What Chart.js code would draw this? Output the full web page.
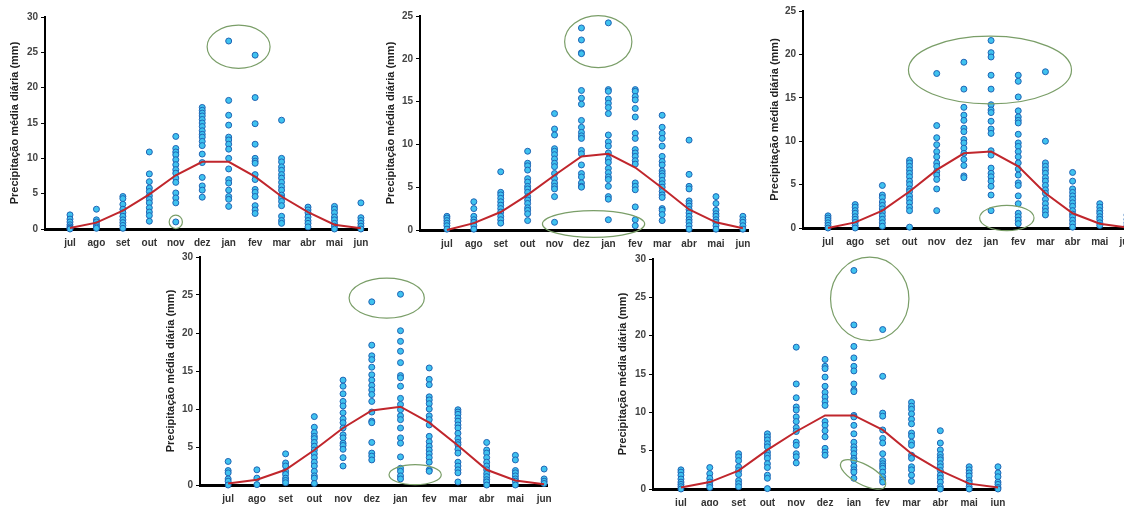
<!DOCTYPE html>
<html>
<head>
<meta charset="utf-8">
<script src="https://cdn.jsdelivr.net/npm/chart.js@4.4.1/dist/chart.umd.min.js"></script>
<style>
  html, body { margin: 0; padding: 0; width: 1124px; height: 506px; overflow: hidden; background: #fff; }
  body { position: relative; }
  canvas { position: absolute; }
</style>
</head>
<body>
<canvas id="g1"></canvas>
<canvas id="g2"></canvas>
<canvas id="g3"></canvas>
<canvas id="g4"></canvas>
<canvas id="g5"></canvas>
<script>
// meses (jul -> jun)
const months = ['jul', 'ago', 'set', 'out', 'nov', 'dez', 'jan', 'fev', 'mar', 'abr', 'mai', 'jun'];
const yTitle = 'Precipitação média diária (mm)';

// grafico 1
const p1Values = [
  [2.0, 1.4, 1.0, 0.6, 0.3, 0.1, 0],
  [2.8, 1.3, 1.0, 0.6, 0.3, 0.1],
  [4.6, 4.3, 3.5, 2.8, 2.3, 1.8, 1.3, 0.9, 0.5, 0.1],
  [10.9, 7.8, 6.7, 5.8, 5.3, 4.7, 4.2, 3.7, 3.0, 2.4, 1.9, 1.1],
  [13.1, 11.4, 10.9, 10.5, 9.8, 9.1, 8.4, 7.9, 7.2, 6.6, 5.1, 4.4, 3.7, 1.0],
  [17.2, 16.8, 16.4, 16.0, 15.5, 15.0, 14.5, 13.9, 13.4, 13.0, 12.4, 11.8, 10.6, 9.4, 7.3, 6.1, 5.5, 4.5],
  [26.6, 18.2, 16.1, 14.7, 13.0, 12.6, 12.0, 11.3, 10.0, 8.5, 7.0, 6.5, 5.5, 4.6, 4.2, 3.2],
  [24.6, 18.6, 14.9, 12.0, 10.0, 9.6, 9.3, 7.7, 7.0, 5.6, 5.2, 4.6, 3.3, 2.7, 2.2],
  [15.4, 10.0, 9.5, 8.8, 8.3, 7.7, 7.2, 6.6, 6.0, 5.5, 4.8, 4.4, 3.9, 3.3, 1.8, 1.2, 0.8],
  [3.1, 2.7, 2.3, 1.7, 1.2, 0.8, 0.3],
  [3.2, 2.8, 2.3, 1.7, 1.3, 0.8, 0.4, 0],
  [3.7, 1.6, 1.2, 0.8, 0.4, 0]
];
const p1Mean = [0.15, 0.9, 2.6, 4.9, 7.6, 9.5, 9.5, 7.4, 4.6, 2.4, 0.6, 0.1];

// grafico 2
const p2Values = [
  [1.6, 1.4, 1.1, 0.8, 0.5, 0.1],
  [3.3, 2.5, 1.6, 1.2, 0.9, 0.5, 0.1],
  [6.8, 4.4, 4.1, 3.7, 3.3, 2.9, 2.5, 2.1, 1.6, 1.2, 0.8],
  [9.2, 7.8, 7.5, 7.0, 6.0, 5.6, 5.1, 4.8, 4.4, 3.9, 3.5, 3.1, 2.6, 2.3, 1.9, 1.1],
  [13.6, 11.8, 11.1, 9.5, 9.2, 8.8, 8.3, 7.8, 7.4, 6.6, 6.0, 5.5, 5.1, 4.8, 3.9, 0.9],
  [23.6, 22.2, 20.7, 20.6, 16.3, 15.4, 14.7, 12.8, 12.0, 11.4, 11.0, 10.7, 9.3, 8.9, 7.6, 6.6, 6.2, 5.5, 5.1, 5.0],
  [24.2, 16.4, 16.2, 15.3, 14.8, 14.3, 13.6, 11.1, 10.3, 9.8, 9.0, 8.3, 7.9, 7.2, 6.7, 6.2, 5.9, 5.1, 3.9, 3.6, 1.2],
  [16.4, 16.2, 15.6, 15.2, 14.2, 13.2, 11.3, 10.7, 9.4, 9.0, 8.6, 8.1, 7.7, 5.5, 5.1, 4.7, 2.7, 1.2, 0.5],
  [13.4, 12.0, 11.3, 10.7, 9.8, 8.6, 8.0, 7.6, 6.9, 6.6, 6.3, 5.8, 5.4, 5.0, 4.5, 4.1, 3.8, 2.5, 2.3, 1.8, 1.1],
  [10.5, 6.5, 5.1, 4.8, 3.4, 3.1, 2.8, 2.4, 2.0, 1.6, 1.2, 0.9, 0.5, 0.1],
  [3.9, 3.1, 2.3, 1.9, 1.6, 1.2, 0.9, 0.5, 0.1],
  [1.6, 1.2, 0.9, 0.5, 0.1]
];
const p2Mean = [0.0, 0.8, 2.1, 4.1, 6.4, 8.6, 8.9, 7.3, 4.9, 2.4, 0.9, 0.2];

// grafico 3
const p3Values = [
  [1.4, 1.15, 0.9, 0.6, 0.3, 0],
  [2.7, 2.4, 2.0, 1.7, 1.3, 1.0, 0.65, 0.3, 0],
  [4.9, 3.8, 3.5, 3.0, 2.6, 2.2, 1.8, 1.4, 1.0, 0.6, 0.2],
  [7.8, 7.5, 7.1, 6.7, 6.3, 5.9, 5.4, 5.0, 4.5, 4.2, 3.7, 3.3, 2.9, 2.4, 2.0, 0.1],
  [17.8, 11.8, 10.4, 9.6, 8.8, 8.2, 7.5, 7.1, 6.5, 6.1, 5.6, 4.5, 2.0],
  [19.1, 16.0, 13.9, 13.0, 12.4, 11.5, 11.1, 10.2, 9.8, 9.2, 8.6, 7.9, 7.2, 6.0, 5.8],
  [21.6, 20.2, 19.7, 17.6, 16.0, 14.2, 13.6, 13.3, 12.3, 11.4, 10.9, 8.9, 8.4, 6.9, 6.3, 5.9, 5.4, 4.8, 3.8, 2.0],
  [17.6, 16.9, 15.1, 13.5, 12.8, 12.4, 12.1, 10.8, 9.8, 9.4, 8.8, 8.2, 7.5, 6.8, 6.1, 5.2, 4.9, 3.7, 2.8, 1.7, 1.3, 0.9, 0.5],
  [18.0, 10.0, 7.5, 7.1, 6.7, 6.3, 5.8, 5.4, 4.9, 4.4, 4.0, 3.3, 2.8, 2.3, 1.9, 1.5],
  [6.4, 5.4, 4.5, 4.1, 3.7, 3.3, 2.9, 2.5, 2.0, 1.6, 1.3, 0.9, 0.5, 0.1],
  [2.8, 2.4, 2.0, 1.7, 1.3, 1.0, 0.6, 0.3],
  [1.5, 1.0, 0.6, 0.3, 0.1]
];
const p3Mean = [0.0, 0.65, 2.0, 4.2, 6.7, 8.6, 8.8, 7.1, 4.0, 1.7, 0.5, 0.05];

// grafico 4
const p4Values = [
  [3.1, 1.9, 1.6, 0.8, 0.5, 0],
  [2.0, 0.9, 0.05],
  [4.1, 2.9, 2.5, 1.8, 1.4, 0.9, 0.6, 0.3],
  [9.0, 7.6, 6.9, 6.4, 6.1, 5.6, 5.1, 4.6, 4.1, 3.6, 3.0, 2.5, 1.8, 1.2, 0.9, 0.2],
  [13.8, 13.0, 12.0, 11.0, 10.4, 9.5, 8.7, 8.2, 7.5, 6.6, 6.2, 5.5, 5.2, 4.7, 3.6, 2.5],
  [24.1, 18.4, 17.0, 16.5, 15.5, 14.5, 13.8, 13.1, 12.5, 11.9, 11.0, 9.6, 8.4, 8.2, 5.6, 4.2, 3.8, 3.3],
  [25.1, 20.3, 18.9, 17.6, 16.1, 14.4, 14.1, 13.0, 11.4, 10.6, 9.9, 9.1, 8.6, 7.5, 6.2, 5.5, 3.7, 2.2, 1.8, 1.2, 0.8],
  [15.4, 13.9, 13.2, 11.6, 11.2, 10.7, 10.0, 9.1, 8.6, 7.9, 6.4, 5.7, 5.1, 4.6, 4.1, 3.6, 3.0, 2.0, 1.8],
  [9.9, 9.6, 9.3, 8.8, 8.4, 7.9, 7.5, 6.8, 6.1, 5.6, 5.3, 4.7, 4.2, 3.0, 2.5, 2.0, 1.6, 0.4],
  [5.6, 4.6, 4.2, 3.6, 3.0, 2.5, 2.0, 1.5, 1.1, 0.7, 0.4, 0],
  [3.9, 3.3, 1.9, 1.6, 1.2, 0.8, 0.5, 0],
  [2.1, 0.8, 0.5, 0.2]
];
const p4Mean = [0.2, 0.7, 2.0, 4.6, 7.5, 9.8, 10.3, 8.2, 5.2, 2.0, 0.6, 0.1];

// grafico 5
const p5Values = [
  [2.5, 2.2, 1.8, 1.3, 0.9, 0.6, 0.3, 0],
  [2.8, 2.0, 1.4, 0.9, 0.5, 0.2],
  [4.6, 4.2, 3.7, 2.9, 2.4, 1.9, 1.1, 0.7, 0.3],
  [7.2, 6.8, 6.4, 5.9, 5.5, 4.8, 4.4, 4.0, 3.3, 2.8, 1.8, 1.4, 0.05],
  [18.5, 13.7, 11.9, 10.7, 10.3, 9.4, 8.8, 8.0, 7.5, 6.1, 5.7, 4.6, 4.2, 3.4],
  [16.9, 16.0, 15.7, 14.6, 13.4, 12.6, 12.0, 11.4, 10.9, 8.8, 8.3, 7.6, 6.8, 5.3, 4.8, 4.4],
  [28.5, 21.4, 18.6, 17.1, 16.0, 15.4, 13.7, 12.9, 12.7, 9.6, 9.4, 8.3, 7.2, 6.1, 5.5, 5.1, 4.6, 4.0, 3.7, 3.0, 2.5, 2.2, 1.4],
  [20.8, 14.7, 9.9, 9.5, 7.7, 6.6, 6.0, 4.6, 3.7, 3.3, 3.0, 2.7, 2.2, 1.6, 1.2, 0.9],
  [11.3, 10.8, 10.4, 9.8, 9.1, 8.5, 7.3, 6.9, 6.1, 5.7, 4.4, 4.0, 2.9, 2.5, 1.8, 1.0],
  [7.6, 6.0, 5.1, 4.5, 4.1, 3.8, 3.3, 2.9, 2.4, 1.8, 1.4, 0.9, 0.3, 0],
  [2.9, 2.5, 2.1, 1.7, 1.1, 0.8, 0.3, 0],
  [2.9, 2.1, 1.6, 0.9, 0.6, 0.2, 0]
];
const p5Mean = [0.2, 0.9, 2.4, 5.1, 7.5, 9.6, 9.6, 7.7, 4.6, 2.4, 0.7, 0.2];

// destaques (elipses verdes): centro x (mes), centro y (mm), raio x (meses), raio y (mm), rotacao (graus)
const p1Rings = [[6.375, 25.8, 1.19, 3.06, 0], [4, 1.0, 0.25, 0.95, 0]];
const p2Rings = [[5.625, 22.0, 1.25, 3.04, 0], [5.45, 0.7, 1.9, 1.56, 0]];
const p3Rings = [[5.96, 18.2, 3.0, 3.9, 0], [6.58, 1.15, 1.0, 1.46, 0]];
const p4Rings = [[5.52, 24.6, 1.31, 2.63, 0], [6.51, 1.36, 0.91, 1.32, 0]];
const p5Rings = [[6.55, 24.8, 1.36, 5.45, 0], [6.32, 1.9, 0.87, 1.3, 28]];

const ringsPlugin = {
  id: 'rings',
  afterDatasetsDraw(chart, args, opts) {
    const { ctx, scales: { x, y } } = chart;
    ctx.save();
    ctx.strokeStyle = '#7a9e68';
    ctx.lineWidth = 1.2;
    (opts.list || []).forEach(r => {
      const cx = x.getPixelForValue(r[0]);
      const cy = y.getPixelForValue(r[1]);
      const rx = Math.abs(x.getPixelForValue(r[0] + r[2]) - cx);
      const ry = Math.abs(y.getPixelForValue(r[1] + r[3]) - cy);
      ctx.beginPath();
      ctx.ellipse(cx, cy, rx, ry, r[4] * Math.PI / 180, 0, Math.PI * 2);
      ctx.stroke();
    });
    ctx.restore();
  }
};

function makePanel(id, box, values, mean, rings) {
  const el = document.getElementById(id);
  el.width = box.w;
  el.height = box.h;
  el.style.left = box.left + 'px';
  el.style.top = box.top + 'px';

  const pts = [];
  values.forEach((list, i) => list.forEach(v => pts.push({ x: i, y: v })));

  new Chart(el, {
    type: 'scatter',
    data: {
      datasets: [
        {
          type: 'line',
          data: mean.map((v, i) => ({ x: i, y: v })),
          borderColor: '#c0262c',
          borderWidth: 2,
          pointRadius: 0,
          tension: 0,
          clip: false
        },
        {
          data: pts,
          backgroundColor: '#3fc2ef',
          borderColor: '#1f64b4',
          borderWidth: 1,
          pointRadius: 3,
          clip: false
        }
      ]
    },
    options: {
      responsive: false,
      animation: false,
      devicePixelRatio: 1,
      layout: { padding: { top: box.padTop, right: box.padRight, left: 0, bottom: 0 } },
      plugins: {
        legend: { display: false },
        tooltip: { enabled: false },
        rings: { list: rings }
      },
      scales: {
        x: {
          type: 'linear',
          min: box.xMin,
          max: box.xMax,
          afterBuildTicks: s => { s.ticks = months.map((m, i) => ({ value: i })); },
          afterFit: s => { s.height = box.xh; },
          ticks: {
            callback: v => months[v],
            font: { family: 'Liberation Sans', size: 10, weight: 'bold' },
            color: '#333',
            padding: 8,
            maxRotation: 0,
            autoSkip: false
          },
          grid: { display: false, drawTicks: false },
          border: { display: true, color: '#000', width: 3 }
        },
        y: {
          min: 0,
          max: box.yMax,
          afterFit: s => { s.width = box.yw; },
          ticks: {
            stepSize: 5,
            font: { family: 'Liberation Sans', size: 10, weight: 'bold' },
            color: '#444',
            padding: 3
          },
          grid: { drawOnChartArea: false, drawTicks: true, tickLength: 4, color: '#000' },
          border: { display: true, color: '#000', width: 2 },
          title: {
            display: true,
            text: yTitle,
            font: { family: 'Liberation Sans', size: 11, weight: 'bold' },
            color: '#222',
            padding: { top: box.titleX - box.left - 6.6, bottom: 0 }
          }
        }
      }
    },
    plugins: [ringsPlugin]
  });
}

makePanel('g1', { left: 0, top: 0, w: 380, h: 250, padTop: 17, padRight: 13, yw: 45, xh: 21, xMin: -0.945, xMax: 11.23, yMax: 30, titleX: 15 }, p1Values, p1Mean, p1Rings);
makePanel('g2', { left: 372, top: 0, w: 390, h: 250, padTop: 16, padRight: 14, yw: 48, xh: 20, xMin: -1.0, xMax: 11.19, yMax: 25, titleX: 391 }, p2Values, p2Mean, p2Rings);
makePanel('g3', { left: 762, top: 0, w: 400, h: 250, padTop: 11, padRight: 22, yw: 41, xh: 22, xMin: -0.92, xMax: 11.48, yMax: 25, titleX: 775 }, p3Values, p3Mean, p3Rings);
makePanel('g4', { left: 152, top: 240, w: 410, h: 266, padTop: 17, padRight: 15, yw: 48, xh: 21, xMin: -0.98, xMax: 11.1, yMax: 30, titleX: 171 }, p4Values, p4Mean, p4Rings);
makePanel('g5', { left: 604, top: 242, w: 410, h: 272, padTop: 17, padRight: 14, yw: 49, xh: 25, xMin: -0.97, xMax: 11.07, yMax: 30, titleX: 623 }, p5Values, p5Mean, p5Rings);
</script>
</body>
</html>
